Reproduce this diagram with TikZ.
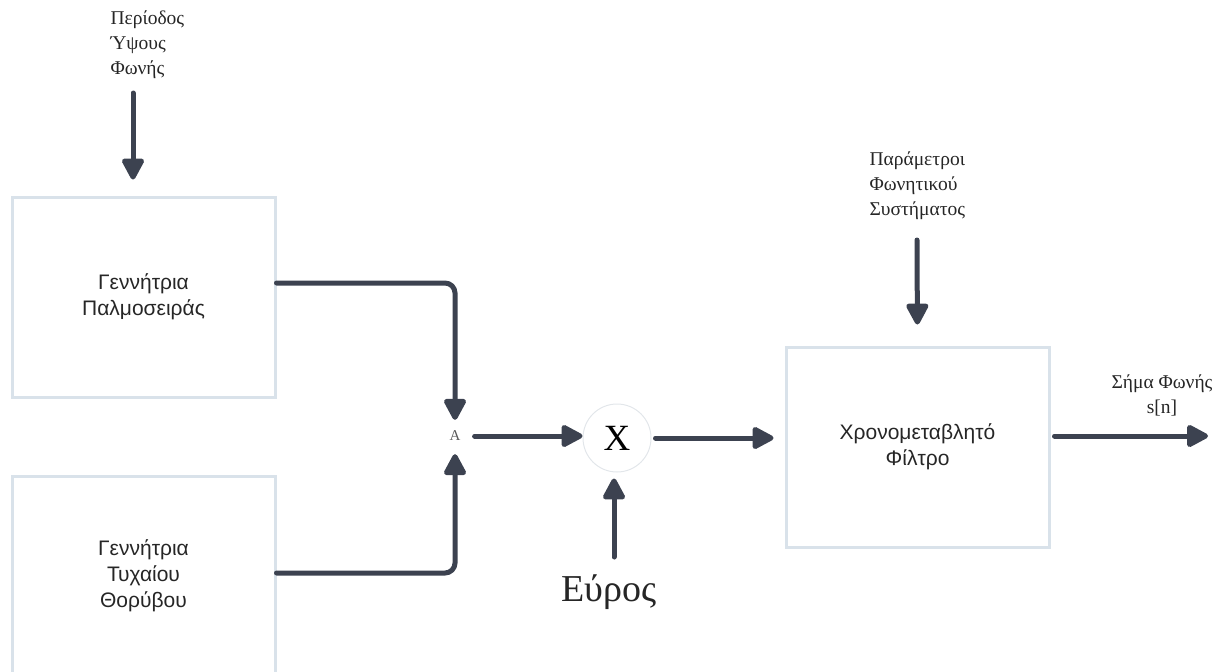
\documentclass[tikz,border=0pt]{standalone}
\usepackage{fontspec}
\setmainfont{Liberation Serif}
\newfontfamily\boxfont{Liberation Sans}
\usetikzlibrary{arrows.meta}
\definecolor{wire}{HTML}{3C4250}
\definecolor{frame}{HTML}{D9E2EA}
\definecolor{ring}{HTML}{E2E6EA}
\tikzset{
  blockbox/.style={draw=frame, line width=3pt, minimum width=263pt, minimum height=200pt,
    align=center, font=\boxfont\fontsize{21}{26}\selectfont, text=black!85},
  sigwire/.style={draw=wire, line width=5pt, line cap=round,
    -{Triangle[length=24pt 0 0,width=24pt 0 0,round=false]}},
  labeltext/.style={font=\fontsize{19.5}{25}\selectfont, text=black!85},
}
\begin{document}
\begin{tikzpicture}[x=1pt,y=-1pt]
\useasboundingbox (0,0) rectangle (1221,672);

% generator and filter blocks
\node[blockbox] (pulse) at (143.5,297) {Γεννήτρια\\Παλμοσειράς};
\node[blockbox] (noise) at (143.5,576) {Γεννήτρια\\Τυχαίου\\Θορύβου};
\node[blockbox] (filter) at (917.5,447) {Χρονομεταβλητό\\Φίλτρο};

% switch and multiplier
\node[font=\fontsize{15}{15}\selectfont, text=black!65, inner sep=0pt] (sw) at (455,436) {A};
\node[circle, draw=ring, line width=1pt, minimum size=68pt, inner sep=0pt,
      font=\fontsize{37}{37}\selectfont] (mult) at (617,438) {X};

% input and output labels
\node[labeltext, align=left, anchor=west] (pitch) at (107,45) {Περίοδος\\Ύψους\\Φωνής};
\node[labeltext, align=left, anchor=west] (tract) at (866,186) {Παράμετροι\\Φωνητικού\\Συστήματος};
\node[labeltext, align=center] (speech) at (1162,395) {Σήμα Φωνής\\s[n]};
\node[font=\fontsize{38}{38}\selectfont, text=black!85] (gain) at (609,592) {Εύρος};

% free ends of the connectors
\coordinate (pitchend) at (133,93);
\coordinate (tractend) at (917,240);
\coordinate (gainend) at (614,557);
\coordinate (outend) at (1208,436);

% connectors
\draw[sigwire] (pitchend) -- (pitchend |- pulse.north) [shorten >=16pt];
\draw[sigwire, rounded corners=10pt] ([yshift=14pt]pulse.east) -| ([yshift=11pt]sw.north);
\draw[sigwire, rounded corners=10pt] ([yshift=3pt]noise.east) -| ([yshift=-13pt]sw.south);
\draw[sigwire, shorten <=14pt] (sw.east) -- (sw.east -| mult.west);
\draw[sigwire, shorten <=4pt, shorten >=11pt] (mult.east) -- (filter.west |- mult.east);
\draw[sigwire, shorten >=6pt] (gainend) -- (gainend |- mult.south);
\draw[sigwire, shorten >=21pt] (tractend) -- (filter.north);
\draw[sigwire, shorten <=4pt] (filter.east |- outend) -- (outend);
\end{tikzpicture}
\end{document}
